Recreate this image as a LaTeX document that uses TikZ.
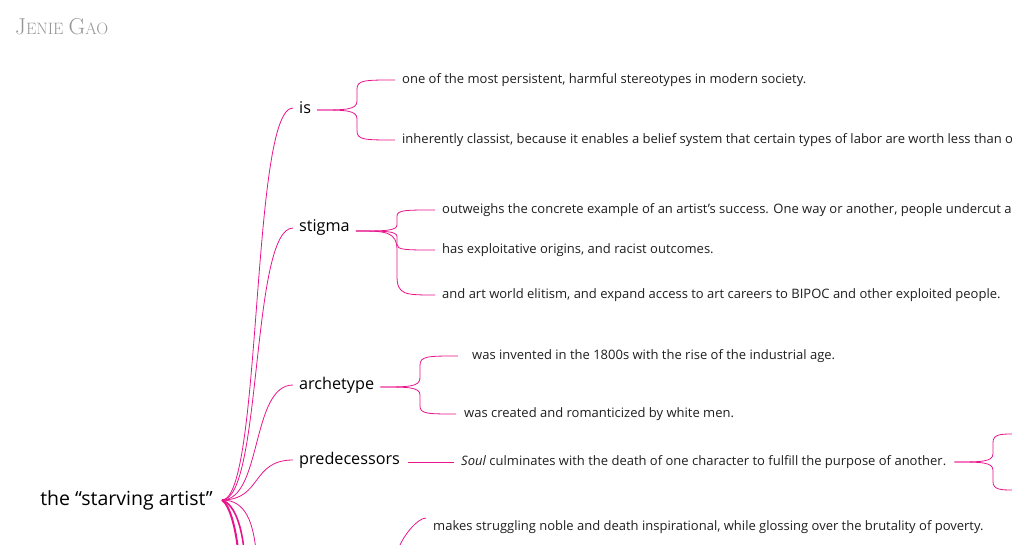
\documentclass[tikz,border=0pt]{standalone}
\usepackage{fontspec}
\setmainfont{Open Sans}
\newfontfamily\titlefont{Latin Modern Roman}
\usetikzlibrary{calc}
\definecolor{pinkline}{RGB}{232,20,140}
\definecolor{leaftext}{RGB}{30,30,30}
\definecolor{titlegray}{RGB}{150,150,150}
\tikzset{
	rootnode/.style={anchor=east,inner sep=2pt,font=\fontsize{19.5}{22}\selectfont},
	branchnode/.style={anchor=west,inner sep=2pt,font=\fontsize{16.2}{19}\selectfont},
	leafnode/.style={anchor=west,inner sep=2pt,text=leaftext,font=\fontsize{13}{15}\selectfont},
	link/.style={draw=pinkline,line width=0.8pt},
}
% brace from parent (#1) to leaf (#2), vertical at x=#3
\newcommand\splitlink[3]{%
	\draw[link] let \p1=(#1), \p2=(#2) in (\p1) .. controls ({#3-12pt},\y1) and (#3,\y1) .. (#3,{\y1+0.3*(\y2-\y1)}) -- (#3,{\y2-0.3*(\y2-\y1)}) .. controls (#3,\y2) and ({#3+8pt},\y2) .. (\p2);}
\begin{document}
\begin{tikzpicture}[x=1pt,y=-1pt]
	\useasboundingbox (0,0) rectangle (1012,545);
	\clip (0,0) rectangle (1012,545);
	\node[anchor=west,text=titlegray,inner sep=0pt] (title) at (15,27) {\titlefont\fontsize{23}{24}\selectfont J\fontsize{16.5}{18}\selectfont ENIE \fontsize{23}{24}\selectfont G\fontsize{16.5}{18}\selectfont AO};
	% root and branches
	\node[rootnode] (root) at (215,500) {the “starving artist”};
	\node[branchnode] (is) at (297,108) {is};
	\node[branchnode] (stigma) at (297,228) {stigma};
	\node[branchnode] (arch) at (297,385) {archetype};
	\node[branchnode] (pred) at (297,460) {predecessors};
	\coordinate (r) at (222,500);
	\foreach \b in {is,stigma,arch,pred}
		\draw[link] (r) .. controls +(40,0) and +(-42,0) .. ($(\b.west)+(-4,0)$);
	\coordinate (down1) at (238,550);
	\coordinate (down2) at (244,550);
	\coordinate (down3) at (256,550);
	\draw[link,line width=2pt] (r) .. controls +(8,5) and +(-2,-20) .. (down1);
	\draw[link,line width=1.6pt] (r) .. controls +(14,5) and +(-2,-20) .. (down2);
	\draw[link] (r) .. controls +(25,0) and +(-3,-25) .. (down3);
	% is
	\node[leafnode] (is1) at (400,80) {one of the most persistent, harmful stereotypes in modern society.};
	\node[leafnode] (is2) at (400,140) {inherently classist, because it enables a belief system that certain types of labor are worth less than others.};
	\coordinate (isout) at ($(is.east)+(4,2)$);
	\splitlink{isout}{$(is1.west)+(-5,0)$}{357pt}
	\splitlink{isout}{$(is2.west)+(-5,0)$}{357pt}
	% stigma
	\node[leafnode] (st1) at (440,210) {outweighs the concrete example of an artist’s success. One way or another, people undercut artists.};
	\node[leafnode] (st2) at (440,250) {has exploitative origins, and racist outcomes.};
	\node[leafnode] (st3) at (440,295) {and art world elitism, and expand access to art careers to BIPOC and other exploited people.};
	\coordinate (stout) at ($(stigma.east)+(4,3)$);
	\splitlink{stout}{$(st1.west)+(-5,0)$}{397pt}
	\splitlink{stout}{$(st2.west)+(-5,0)$}{397pt}
	\splitlink{stout}{$(st3.west)+(-5,0)$}{397pt}
	% archetype
	\node[leafnode] (ar1) at (470,356) {was invented in the 1800s with the rise of the industrial age.};
	\node[leafnode] (ar2) at (462,414) {was created and romanticized by white men.};
	\coordinate (arout) at ($(arch.east)+(4,2)$);
	\splitlink{arout}{$(ar1.west)+(-12,0)$}{420pt}
	\splitlink{arout}{$(ar2.west)+(-6,0)$}{420pt}
	% predecessors
	\node[leafnode] (pr1) at (459,462) {\textit{Soul} culminates with the death of one character to fulfill the purpose of another.};
	\draw[link] ($(pred.east)+(6,2)$) -- ($(pr1.west)+(-5,0)$);
	\coordinate (prout) at ($(pr1.east)+(6,0)$);
	\coordinate (pr2) at (1014,434);
	\coordinate (pr3) at (1014,490);
	\splitlink{prout}{pr2}{993pt}
	\splitlink{prout}{pr3}{993pt}
	% lower branch
	\node[leafnode] (mk1) at (431,527) {makes struggling noble and death inspirational, while glossing over the brutality of poverty.};
	\coordinate (mkin) at (398,550);
	\draw[link] (mkin) .. controls +(5,-15) and +(-8,0) .. ($(mk1.west)+(-5,-9)$);
\end{tikzpicture}
\end{document}
